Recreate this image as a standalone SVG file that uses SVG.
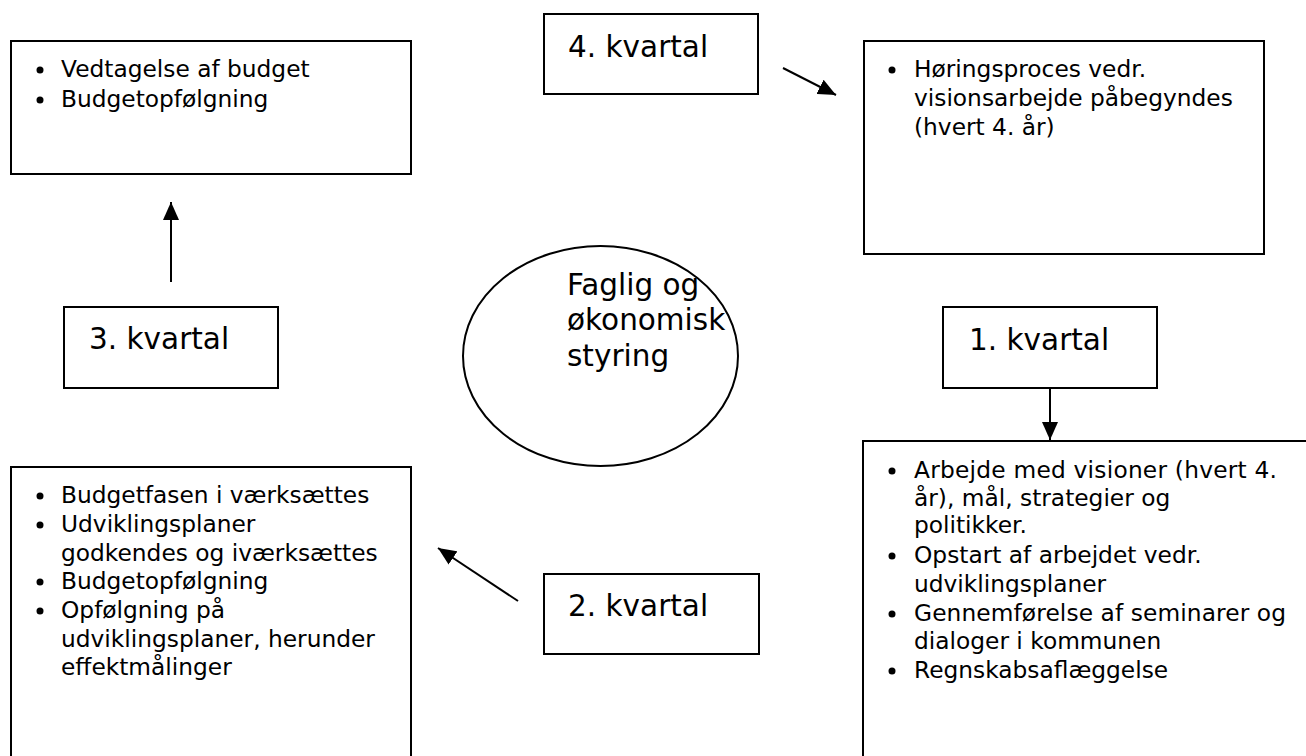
<svg xmlns="http://www.w3.org/2000/svg" width="1306" height="756" viewBox="0 0 1306 756">
<style>
.box{fill:#fff;stroke:#000;stroke-width:2}
.t{font-family:"DejaVu Sans",Verdana,sans-serif;fill:#000}
.b{font-size:23.3px}
.l{font-size:29.5px}
.c{stroke:#000;stroke-width:2;fill:none}
</style>
<defs>
<marker id="ah" markerWidth="10" markerHeight="10" refX="9" refY="5" orient="auto" markerUnits="userSpaceOnUse" viewBox="0 0 10 10">
<path d="M0,0 L10,5 L0,10 Z" fill="#000" transform="scale(1)"/>
</marker>
<marker id="ah2" markerWidth="18" markerHeight="16" refX="18" refY="8" orient="auto" markerUnits="userSpaceOnUse" viewBox="0 0 18 16">
<path d="M0,0 L18,8 L0,16 Z" fill="#000"/>
</marker>
</defs>
<rect width="1306" height="756" fill="#fff"/>

<g id="box-q3-tasks">
<rect class="box" x="11" y="41" width="400" height="133"/>
<circle cx="40" cy="70" r="3.5"/>
<circle cx="40" cy="100" r="3.5"/>
<text class="t b" x="61" y="77">Vedtagelse af budget</text>
<text class="t b" x="61" y="107">Budgetopfølgning</text>
</g>

<g id="label-q4">
<rect class="box" x="544" y="14" width="214" height="80"/>
<text class="t l" x="568" y="57">4. kvartal</text>
</g>

<g id="box-q4-tasks">
<rect class="box" x="864" y="41" width="400" height="213"/>
<circle cx="892" cy="70" r="3.5"/>
<text class="t b" x="914" y="77">Høringsproces vedr.</text>
<text class="t b" x="914" y="106">visionsarbejde påbegyndes</text>
<text class="t b" x="914" y="135">(hvert 4. år)</text>
</g>

<g id="center">
<ellipse class="c" cx="600.5" cy="356" rx="137.5" ry="110" fill="#fff"/>
<text class="t l" x="567" y="295">Faglig og</text>
<text class="t l" x="567" y="330">økonomisk</text>
<text class="t l" x="567" y="366">styring</text>
</g>

<g id="label-q3">
<rect class="box" x="64" y="307" width="214" height="81"/>
<text class="t l" x="89" y="349">3. kvartal</text>
</g>

<g id="label-q1">
<rect class="box" x="943" y="307" width="214" height="81"/>
<text class="t l" x="969" y="350">1. kvartal</text>
</g>

<g id="box-q2-tasks">
<rect class="box" x="11" y="467" width="400" height="300"/>
<circle cx="40" cy="496" r="3.5"/>
<circle cx="40" cy="525" r="3.5"/>
<circle cx="40" cy="582" r="3.5"/>
<circle cx="40" cy="611" r="3.5"/>
<text class="t b" x="61" y="503">Budgetfasen i værksættes</text>
<text class="t b" x="61" y="532">Udviklingsplaner</text>
<text class="t b" x="61" y="561">godkendes og iværksættes</text>
<text class="t b" x="61" y="589">Budgetopfølgning</text>
<text class="t b" x="61" y="618">Opfølgning på</text>
<text class="t b" x="61" y="647">udviklingsplaner, herunder</text>
<text class="t b" x="61" y="675">effektmålinger</text>
</g>

<g id="label-q2">
<rect class="box" x="544" y="574" width="215" height="80"/>
<text class="t l" x="568" y="616">2. kvartal</text>
</g>

<g id="box-q1-tasks">
<rect class="box" x="863" y="441" width="460" height="330"/>
<circle cx="892" cy="471" r="3.5"/>
<circle cx="892" cy="556" r="3.5"/>
<circle cx="892" cy="614" r="3.5"/>
<circle cx="892" cy="671" r="3.5"/>
<text class="t b" x="914" y="478" textLength="363" lengthAdjust="spacing">Arbejde med visioner (hvert 4.</text>
<text class="t b" x="914" y="506">år), mål, strategier og</text>
<text class="t b" x="914" y="533">politikker.</text>
<text class="t b" x="914" y="563">Opstart af arbejdet vedr.</text>
<text class="t b" x="914" y="592">udviklingsplaner</text>
<text class="t b" x="914" y="621" textLength="372" lengthAdjust="spacing">Gennemførelse af seminarer og</text>
<text class="t b" x="914" y="649">dialoger i kommunen</text>
<text class="t b" x="914" y="678">Regnskabsaflæggelse</text>
</g>

<g id="connectors">
<line class="c" x1="783" y1="68" x2="836" y2="95" marker-end="url(#ah2)"/>
<line class="c" x1="1050" y1="388" x2="1050" y2="440" marker-end="url(#ah2)"/>
<line class="c" x1="518" y1="601" x2="438" y2="548" marker-end="url(#ah2)"/>
<line class="c" x1="171" y1="282" x2="171" y2="202" marker-end="url(#ah2)"/>
</g>
</svg>
